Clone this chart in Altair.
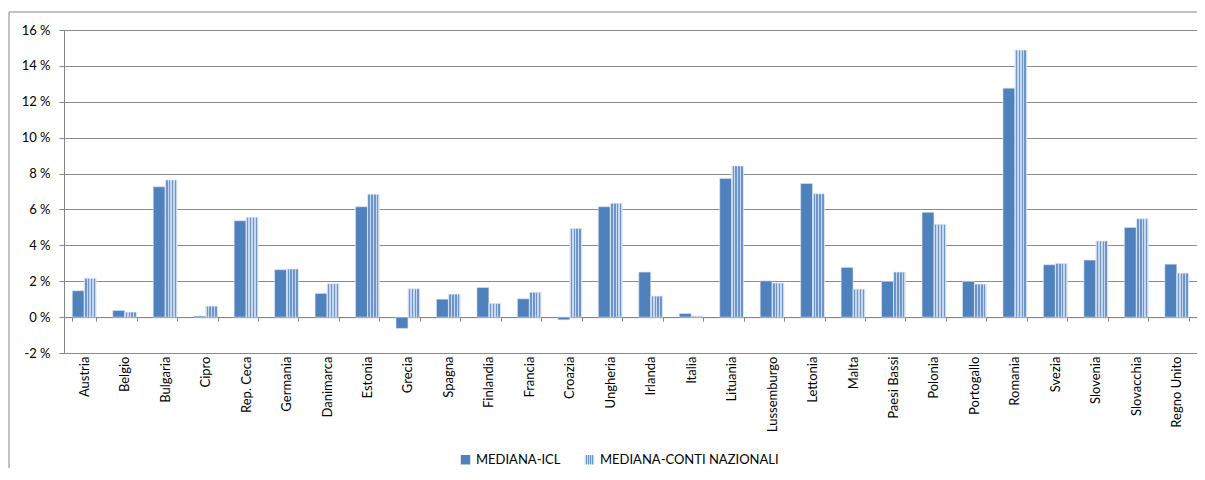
import altair as alt
import pandas as pd

countries = ["Austria", "Belgio", "Bulgaria", "Cipro", "Rep. Ceca", "Germania", "Danimarca",
             "Estonia", "Grecia", "Spagna", "Finlandia", "Francia", "Croazia", "Ungheria",
             "Irlanda", "Italia", "Lituania", "Lussemburgo", "Lettonia", "Malta", "Paesi Bassi",
             "Polonia", "Portogallo", "Romania", "Svezia", "Slovenia", "Slovacchia", "Regno Unito"]
icl = [1.47, 0.37, 7.26, 0.06, 5.37, 2.64, 1.32, 6.15, -0.63, 1.00, 1.65, 1.02, -0.15, 6.15,
       2.51, 0.20, 7.73, 2.02, 7.45, 2.77, 1.99, 5.84, 1.99, 12.76, 2.92, 3.18, 5.00, 2.95]
cn = [2.16, 0.28, 7.64, 0.61, 5.56, 2.68, 1.86, 6.84, 1.58, 1.28, 0.76, 1.38, 4.94, 6.35,
      1.17, 0.05, 8.42, 1.90, 6.87, 1.56, 2.51, 5.17, 1.84, 14.88, 2.99, 4.24, 5.48, 2.45]
series = ["MEDIANA-ICL", "MEDIANA-CONTI NAZIONALI"]
y_ticks = [-2, 0, 2, 4, 6, 8, 10, 12, 14, 16]

rows = []
for c, a, b in zip(countries, icl, cn):
    rows.append({"paese": c, "serie": series[0], "valore": a})
    rows.append({"paese": c, "serie": series[1], "valore": b})
df = pd.DataFrame(rows)

W, H = 1133, 323
Y_MIN, Y_MAX = -2, 16
zero_offset = -H * (0 - Y_MIN) / (Y_MAX - Y_MIN)

FONT = "Lato"
LIGHT = "#c6d7ee"
DARK = "#6d95cd"
bands = [(0.0, 0.08, LIGHT), (0.08, 0.20, DARK), (0.20, 0.32, LIGHT), (0.32, 0.44, DARK),
         (0.44, 0.56, LIGHT), (0.56, 0.68, DARK), (0.68, 0.80, LIGHT), (0.80, 0.92, DARK),
         (0.92, 1.0, LIGHT)]
stops = []
for s, e, col in bands:
    stops.append("{offset:%g,color:'%s'}" % (s, col))
    stops.append("{offset:%g,color:'%s'}" % (e, col))
stripe_expr = "{gradient:'linear',x1:0,y1:0,x2:1,y2:0,stops:[" + ",".join(stops) + "]}"

bars = alt.Chart(df).mark_bar(stroke="#dce6f2", strokeWidth=0.6).encode(
    x=alt.X("paese:N", sort=countries,
            scale=alt.Scale(paddingInner=0.41, paddingOuter=0.205),
            axis=alt.Axis(title=None, labelAngle=-90, labelAlign="right", labelBaseline="middle",
                          offset=zero_offset, tickBand="extent", tickSize=4, labelPadding=35,
                          domainColor="#868686", tickColor="#868686", grid=False)),
    xOffset=alt.XOffset("serie:N", scale=alt.Scale(domain=series, paddingInner=0, paddingOuter=0)),
    y=alt.Y("valore:Q",
            scale=alt.Scale(domain=[Y_MIN, Y_MAX], nice=False, zero=False),
            axis=alt.Axis(title=None, values=y_ticks, labelExpr="datum.value + ' %'",
                          tickSize=5, labelPadding=9, domainColor="#868686", tickColor="#868686",
                          gridColor="#8a8a8a", grid=True)),
    color=alt.Color("serie:N",
                    scale=alt.Scale(domain=series, range=["#4f81bd", {"expr": stripe_expr}]),
                    legend=alt.Legend(title=None, orient="none", legendX=395, legendY=423,
                                      direction="horizontal", symbolType="square", symbolSize=90,
                                      symbolStrokeWidth=0, columnPadding=22, labelOffset=4,
                                      labelLimit=400,
                                      labelFont=FONT, labelFontSize=13, labelColor="#000000")),
)

frame_df = pd.DataFrame({"k": [0]})
frame_top = alt.Chart(frame_df).mark_rule(color="#868686", strokeWidth=1).encode(
    x=alt.value(-55), x2=alt.value(1150), y=alt.value(-18))
frame_left = alt.Chart(frame_df).mark_rule(color="#868686", strokeWidth=1).encode(
    x=alt.value(-55), y=alt.value(-18), y2=alt.value(460))

chart = alt.layer(frame_top, frame_left, bars).properties(
    width=W, height=H, autosize="none",
    padding={"left": 56, "top": 22, "right": 0, "bottom": 115},
).configure_axis(
    labelFont=FONT, labelFontSize=13, labelColor="#000000",
).configure_view(stroke="transparent")

chart.save("out.html", embed_options={"renderer": "svg", "actions": False})
